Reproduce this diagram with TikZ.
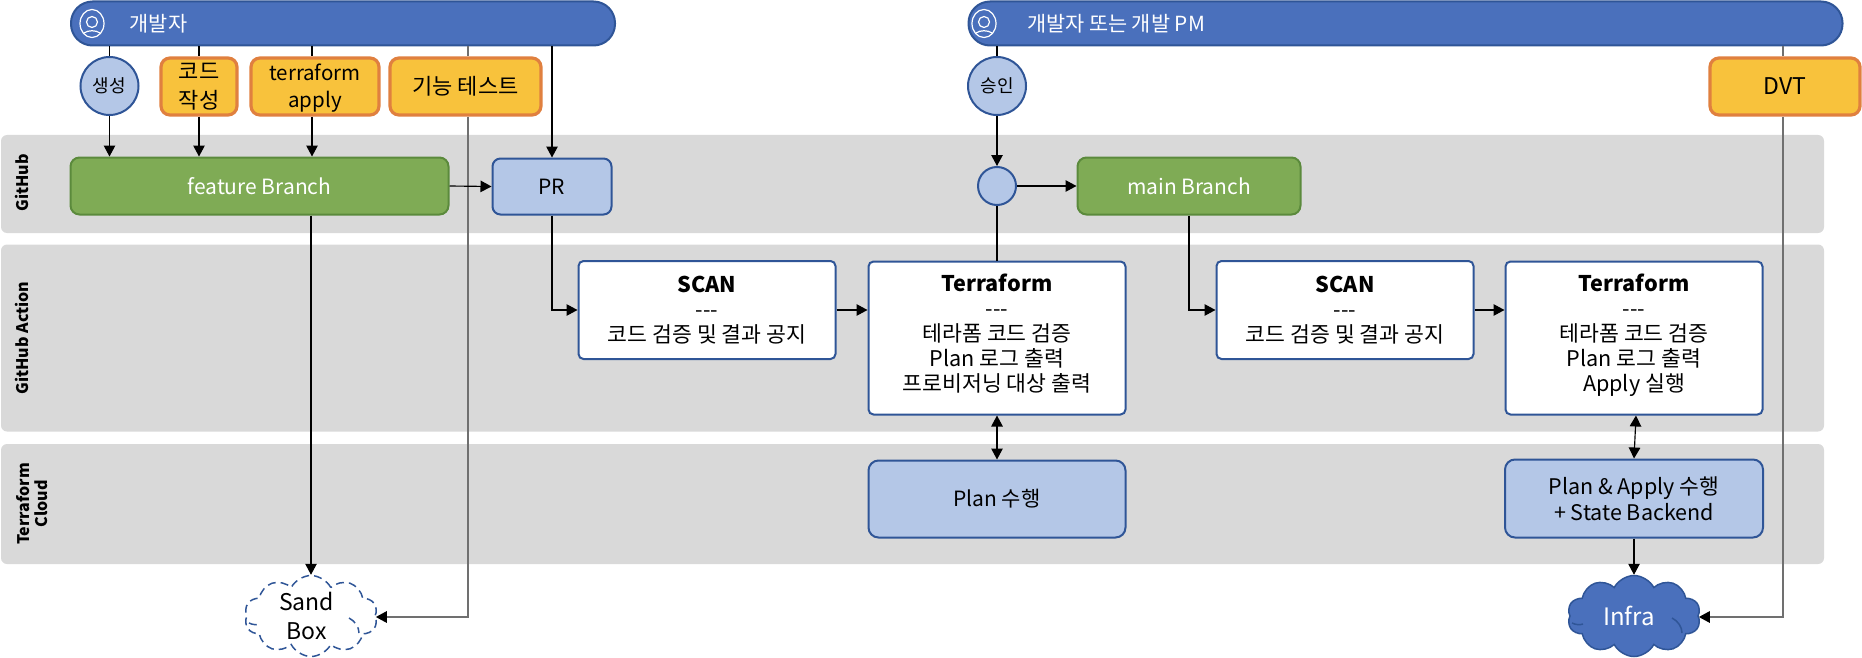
\documentclass[tikz,border=0pt]{standalone}
\usepackage{fontspec}
\setmainfont{Noto Sans CJK KR}
\usetikzlibrary{arrows.meta,shapes.symbols,shapes.geometric}
\definecolor{lanegray}{HTML}{D9D9D9}
\definecolor{barblue}{HTML}{4A70BC}
\definecolor{edgeblue}{HTML}{2F5597}
\definecolor{softblue}{HTML}{B4C7E7}
\definecolor{leafgreen}{HTML}{7FAB55}
\definecolor{edgegreen}{HTML}{5B8A3C}
\definecolor{amber}{HTML}{F8C23C}
\definecolor{edgeorange}{HTML}{E0803F}
\definecolor{wiregray}{HTML}{707070}
\tikzset{
  lane/.style={rectangle, rounded corners=6pt, fill=lanegray},
  lanetext/.style={rotate=90, align=center, font=\fontsize{16pt}{18pt}\selectfont\bfseries},
  actorbar/.style={rectangle, rounded corners=21.5pt, minimum height=44pt, fill=barblue, line width=2pt, draw=edgeblue},
  actortext/.style={text=white, font=\fontsize{20.8pt}{24pt}\selectfont},
  usericon/.style={ellipse, minimum width=24pt, minimum height=28pt, line width=1.2pt, draw=white},
  iconline/.style={line width=1.2pt, white},
  taskbox/.style={rectangle, rounded corners=9pt, minimum height=57pt, fill=amber, line width=3.2pt, draw=edgeorange, align=center, font=\fontsize{22pt}{29pt}\selectfont},
  branchbox/.style={rectangle, rounded corners=9pt, minimum height=57pt, fill=leafgreen, line width=2pt, draw=edgegreen, text=white},
  softbox/.style={rectangle, rounded corners=10pt, fill=softblue, line width=2pt, draw=edgeblue, align=center},
  stepbox/.style={rectangle, rounded corners=5pt, minimum width=257pt, fill=white, line width=2pt, draw=edgeblue, align=center, font=\fontsize{21.6pt}{25pt}\selectfont},
  softdot/.style={circle, fill=softblue, line width=2pt, draw=edgeblue},
  cloudline/.style={line width=1.5pt, edgeblue},
  flow/.style={line width=1.15pt, color=black},
  wire/.style={line width=1.5pt, color=wiregray}
}
\begin{document}
\begin{tikzpicture}
[every node/.style={inner sep=0pt}, >={Triangle[length=11pt,width=11.5pt,black]}, font=\fontsize{21pt}{25pt}\selectfont]
\useasboundingbox (0pt, 0pt) rectangle (1862pt, -658pt);
\node (lanehub) [lane, minimum width=1823pt, minimum height=98pt] at (912.5pt, -184pt) {};
\node (laneaction) [lane, minimum width=1823pt, minimum height=187pt] at (912.5pt, -338pt) {};
\node (lanecloud) [lane, minimum width=1823pt, minimum height=120pt] at (912.5pt, -504pt) {};
\node (hubtext) [lanetext] at (22pt, -183pt) {GitHub};
\node (actiontext) [lanetext] at (22pt, -338pt) {GitHub Action};
\node (cloudtext) [lanetext] at (32pt, -504pt) {Terraform\\Cloud};
\node (dev) [actorbar, minimum width=544pt] at (343pt, -23.5pt) {};
\node (pm) [actorbar, minimum width=874pt] at (1405.5pt, -23.5pt) {};
\node (devicon) [usericon] at (92pt, -23.5pt) {};
\node (pmicon) [usericon] at (984pt, -23.5pt) {};
\draw [iconline] (92pt, -22pt) ellipse (5.5pt and 5.5pt);
\draw [iconline] (984pt, -22pt) ellipse (5.5pt and 5.5pt);
\draw [iconline] (84pt, -33pt) .. controls (88pt, -30pt) and (96pt, -30pt) .. (100pt, -33pt);
\draw [iconline] (976pt, -33pt) .. controls (980pt, -30pt) and (988pt, -30pt) .. (992pt, -33pt);
\node (devtext) [actortext] at (158.5pt, -24pt) {개발자};
\node (pmtext) [actortext] at (1116pt, -24pt) {개발자 또는 개발 PM};
\node (create) [softbox, circle, minimum size=58pt, font=\fontsize{18pt}{20pt}\selectfont] at (109.5pt, -86pt) {생성};
\node (write) [taskbox, minimum width=76pt] at (199pt, -86.5pt) {코드\\작성};
\node (apply) [taskbox, minimum width=128pt, font=\fontsize{20.5pt}{27pt}\selectfont] at (315pt, -86.5pt) {\rule{0pt}{20pt}terraform\\apply};
\node (test) [taskbox, minimum width=151pt] at (465.5pt, -86.5pt) {기능 테스트};
\node (approve) [softbox, circle, minimum size=58pt, font=\fontsize{18pt}{20pt}\selectfont] at (997pt, -86pt) {승인};
\node (dvt) [taskbox, minimum width=150pt, font=\fontsize{23pt}{29pt}\selectfont] at (1785pt, -86.5pt) {DVT};
\node (feature) [branchbox, minimum width=378pt] at (259.5pt, -186pt) {feature Branch};
\node (pr) [softbox, rounded corners=8pt, minimum width=119pt, minimum height=56pt] at (552pt, -186.5pt) {PR};
\node (merge) [softdot, minimum size=38pt] at (997pt, -186pt) {};
\node (main) [branchbox, minimum width=223pt] at (1189pt, -186pt) {main Branch};
\node (scana) [stepbox, minimum height=98pt] at (707pt, -310pt) {\textbf{SCAN}\\-{}-{}-\\코드 검증 및 결과 공지};
\node (forma) [stepbox, minimum height=153pt] at (997pt, -338pt) {\textbf{Terraform}\\-{}-{}-\\테라폼 코드 검증\\Plan 로그 출력\\프로비저닝 대상 출력\rule[-10pt]{0pt}{0pt}};
\node (scanb) [stepbox, minimum height=98pt] at (1345pt, -310pt) {\textbf{SCAN}\\-{}-{}-\\코드 검증 및 결과 공지};
\node (formb) [stepbox, minimum height=153pt] at (1634pt, -338pt) {\textbf{Terraform}\\-{}-{}-\\테라폼 코드 검증\\Plan 로그 출력\\Apply 실행\rule[-10pt]{0pt}{0pt}};
\node (plana) [softbox, minimum width=257pt, minimum height=77pt] at (997pt, -499pt) {Plan 수행};
\node (planb) [softbox, minimum width=258pt, minimum height=78pt, font=\fontsize{21.5pt}{26pt}\selectfont] at (1634pt, -498.5pt) {Plan \& Apply 수행\\+ State Backend};
\node (sandbox) [cloud, cloud puffs=10, cloud puff arc=125, aspect=1.6, minimum width=133pt, minimum height=81pt, fill=white, line width=1.5pt, draw=edgeblue, dash pattern=on 8pt off 5pt] at (311pt, -616pt) {};
\draw [cloudline, dash pattern=on 8pt off 5pt] (249pt, -623pt) .. controls (253pt, -625pt) and (257pt, -625pt) .. (260pt, -624pt);
\draw [cloudline, dash pattern=on 8pt off 5pt] (349pt, -618pt) .. controls (355pt, -621pt) and (359pt, -627pt) .. (359pt, -633pt);
\node (sandtext) at (306.5pt, -616pt) [align=center, font=\fontsize{23pt}{28.5pt}\selectfont] {Sand\\Box};
\node (infra) [cloud, cloud puffs=10, cloud puff arc=125, aspect=1.6, minimum width=133pt, minimum height=81pt, fill=barblue, line width=1.5pt, draw=edgeblue] at (1634pt, -616pt) {};
\draw [cloudline] (1572pt, -623pt) .. controls (1576pt, -625pt) and (1580pt, -625pt) .. (1583pt, -624pt);
\draw [cloudline] (1672pt, -618pt) .. controls (1678pt, -621pt) and (1682pt, -627pt) .. (1682pt, -633pt);
\node (infratext) at (1629pt, -616pt) [text=white, font=\fontsize{24pt}{25pt}\selectfont] {Infra};
\draw [flow] (dev.south -| create.north) to (create.north);
\draw [flow, ->] (create.south) to (create.south |- feature.north);
\draw [flow] (dev.south -| write.north) to (write.north);
\draw [flow, ->] (write.south) to (write.south |- feature.north);
\draw [flow] (dev.south -| 312pt, 0pt) to (apply.north -| 312pt, 0pt);
\draw [flow, ->] (apply.south -| 312pt, 0pt) to (feature.north -| 312pt, 0pt);
\draw [wire] (dev.south -| 468pt, 0pt) to (test.north -| 468pt, 0pt);
\draw [wire, ->] (test.south -| 468pt, 0pt) to (468pt, -617pt) to (sandbox.east |- 0pt, -617pt);
\draw [flow, ->] (dev.south -| pr.north) to (pr.north);
\draw [flow, ->] (feature.east) to (pr.west);
\draw [flow, ->] (feature.south -| sandbox.north) to (sandbox.north);
\draw [flow, ->] (pr.south) |- (scana.west);
\draw [flow, ->] (scana.east) to (scana.east -| forma.west);
\draw [flow] (pm.south -| approve.north) to (approve.north);
\draw [flow, ->] (approve.south) to (merge.north);
\draw [flow, ->] (merge.east) to (main.west);
\draw [flow] (merge.south) to (merge.south |- forma.north);
\draw [flow, <->] (forma.south) to (plana.north);
\draw [flow, ->] (main.south) |- (scanb.west);
\draw [flow, ->] (scanb.east) to (scanb.east -| formb.west);
\draw [flow, <->] (formb.south -| 1636pt, 0pt) to (planb.north -| 1634pt, 0pt);
\draw [flow, ->] (planb.south) to (infra.north);
\draw [wire] (pm.south -| 1783pt, 0pt) to (dvt.north -| 1783pt, 0pt);
\draw [wire, ->] (dvt.south -| 1783pt, 0pt) to (1783pt, -617pt) to (infra.east |- 0pt, -617pt);
\end{tikzpicture}
\end{document}
